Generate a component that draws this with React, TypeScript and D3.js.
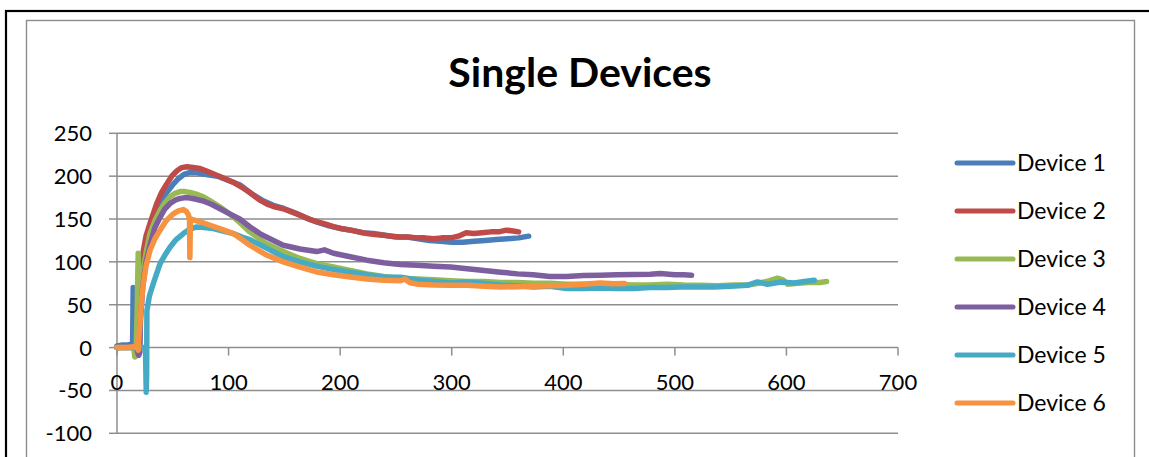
import React from "react";
import * as d3 from "d3";

type Pt = [number, number];

const seriesNames = ["Device 1", "Device 2", "Device 3", "Device 4", "Device 5", "Device 6"];
const seriesColors = ["#4a7ebb", "#be4b48", "#98b954", "#7d5fa0", "#46aac5", "#f69240"];

const xTicks = [0, 100, 200, 300, 400, 500, 600, 700];
const yTicks = [-100, -50, 0, 50, 100, 150, 200, 250];

const device1: Pt[] = [
  [0, 2], [5, 3], [10, 3], [13, 4], [14, 5], [14.5, 70], [15, 60], [15.5, 8], [17, 5], [19, 30], [21, 60],
  [24, 95], [28, 125], [33, 150], [38, 166], [44, 180], [50, 190], [55, 197], [60, 202], [65, 204], [72, 204],
  [80, 202], [90, 200], [100, 195], [110, 190], [120, 180], [130, 172], [140, 166], [150, 162], [160, 157],
  [170, 151], [180, 146], [190, 142], [200, 139], [210, 137], [220, 134], [230, 133], [240, 131], [250, 129],
  [260, 129], [270, 127], [280, 125], [290, 124], [300, 123], [310, 123], [320, 124], [330, 125], [340, 126],
  [350, 127], [360, 128], [369, 130],
];

const device2: Pt[] = [
  [0, 0], [10, 0], [17, 0], [18, -3], [19, 20], [21, 70], [23.6, 113], [26, 130], [29.6, 145], [35.6, 168],
  [40, 181], [44.6, 191], [49, 200], [53.5, 206], [58, 210], [62.5, 211], [68, 210], [74.4, 209], [82, 205],
  [89.4, 201], [97, 197], [104, 193], [112, 187], [120, 180], [128, 172], [135, 167], [142, 164], [149, 162],
  [157, 158], [165, 154], [172, 150], [179, 147], [187, 144], [194, 141], [201, 139], [209, 137], [217, 135],
  [224, 133], [231, 132], [239, 131], [246, 130], [254, 129], [261, 129], [269, 128], [276, 128], [284, 127],
  [291, 128], [299, 128], [306, 130], [313, 134], [320, 133], [327, 134], [335, 135], [342, 135], [349, 137],
  [355, 136], [360, 135],
];

const device3: Pt[] = [
  [0, 0], [10, 0], [15, 0], [16, -11], [17, -10], [18, 40], [19, 110], [20, 60], [23, 85], [26, 110],
  [29.6, 133], [34, 148], [38.6, 160], [43, 169], [47.5, 176], [52, 180], [56.5, 182], [61, 182], [65.5, 181],
  [71, 179], [77.4, 176], [85, 170], [92.4, 164], [101, 156], [110, 146], [119, 135], [134, 121], [149, 112],
  [164, 104], [179, 98], [194, 94], [209, 90], [224, 86], [239, 83], [254, 81], [269, 80], [284, 79], [299, 78],
  [314, 77], [329, 77], [344, 76], [359, 76], [373, 75], [388, 75], [403, 74], [418, 74], [433, 73.5],
  [448, 73.5], [463, 73], [478, 73], [493, 74], [508, 73], [523, 72.7], [538, 72], [553, 73], [565, 73],
  [575, 75], [585, 78], [592, 81], [597, 79], [601, 74], [610, 75], [620, 76], [630, 76], [636, 77],
];

const device4: Pt[] = [
  [0, 0], [10, 1], [17, 1], [18.5, -5], [19.5, -9], [20.5, -5], [21, 30], [23, 70], [26, 100], [30, 122],
  [34, 140], [38.6, 152], [43, 162], [47.5, 168], [52, 172], [56.5, 174], [61, 175], [65.5, 174.5], [71, 173],
  [77.4, 171], [85, 167], [92.4, 162], [101, 156], [110, 150], [119, 141], [128, 133], [137, 127], [149, 119.4],
  [164, 115], [179, 112], [186, 114], [194, 110], [209, 106], [224, 102], [239, 99], [254, 97], [269, 96],
  [284, 95], [299, 94], [314, 92], [329, 90], [344, 88], [359, 86], [373, 85], [388, 83], [403, 83], [418, 84],
  [433, 84.4], [448, 85], [463, 85.2], [478, 85.5], [487, 86.3], [500, 85], [508, 85], [515, 84.4],
];

const device5: Pt[] = [
  [0, 0], [10, 0], [20, 0], [25.5, 0], [26.2, -52], [26.6, -30], [26.8, 43], [29, 60], [32.6, 75], [38.6, 98],
  [43, 108], [47.5, 117], [53, 126], [59.5, 133], [65, 138], [71.5, 140.7], [78, 140], [86.4, 138.8], [95, 136],
  [104.3, 133], [112, 129], [119, 126], [134, 116], [149, 106], [164, 100], [179, 95], [194, 91], [209, 88],
  [224, 85], [239, 82], [254, 82], [269, 79], [284, 77], [299, 75.4], [314, 76.6], [329, 74.7], [344, 73],
  [359, 72], [373, 70.7], [388, 71.5], [403, 68.8], [418, 69], [433, 69.5], [448, 69], [463, 68.8], [478, 70],
  [493, 70], [505, 70.7], [520, 70.7], [535, 70.7], [550, 71.5], [565, 72.7], [574, 76.6], [583, 73.9],
  [595, 76.6], [607, 75.4], [616, 77], [625, 78.5],
];

const device6: Pt[] = [
  [0, 0], [8, 0], [15, 1], [18, 0], [19, -3], [19.5, 10], [20.6, 28], [22, 55], [23.6, 75], [26, 95],
  [29.6, 113.5], [34, 127], [38.6, 137], [44, 148], [50.5, 156], [55, 159.5], [59.5, 161], [62, 159], [64, 155],
  [65, 150], [65.3, 105], [65.8, 150], [70, 148.5], [76, 146], [83.4, 142.7], [94, 138], [104.3, 133], [112, 126],
  [119, 119.4], [134, 108], [149, 100], [164, 94], [179, 88.2], [194, 85], [209, 82.4], [224, 80], [239, 78.5],
  [254, 78], [258, 80], [262, 76], [269, 74], [284, 73], [299, 72.7], [314, 72.7], [329, 71.5], [344, 70.7],
  [359, 71], [373, 71.5], [388, 72], [403, 72.7], [418, 74], [433, 75.4], [445, 74.5], [455, 74.7],
];

const allSeries = [device1, device2, device3, device4, device5, device6];

const W = 1149;
const H = 457;
const FONT = "Lato, 'Open Sans', sans-serif";

export default function App() {
  const x = d3.scaleLinear().domain([0, 700]).range([117, 898]);
  const y = d3.scaleLinear().domain([-100, 250]).range([433.3, 133.3]);
  const line = d3
    .line<Pt>()
    .x((d) => x(d[0]))
    .y((d) => y(d[1]));

  const gridColor = "#8e8e8e";
  const legendX = 957;
  const legendY0 = 163;
  const legendStep = 48;

  return (
    <svg
      width={W}
      height={H}
      style={{ position: "absolute", left: 0, top: 0, background: "#fff" }}
      fontFamily={FONT}
    >
      <rect x={0} y={0} width={W} height={H} fill="#fff" />
      <rect x={6} y={11} width={W + 20} height={H + 20} fill="none" stroke="#000" strokeWidth={2.2} />
      <rect x={26.5} y={20.5} width={1108} height={H + 20} fill="none" stroke="#8c8c8c" strokeWidth={1.4} />

      <text x={580} y={87} textAnchor="middle" fontSize={41} fontWeight="bold" fill="#000">
        Single Devices
      </text>

      {yTicks.map((t) => (
        <line key={"g" + t} x1={x(0)} x2={x(700)} y1={y(t)} y2={y(t)} stroke={gridColor} strokeWidth={1.5} />
      ))}
      <line x1={x(0)} x2={x(0)} y1={y(-100)} y2={y(250)} stroke={gridColor} strokeWidth={1.5} />
      {yTicks.map((t) => (
        <line key={"yt" + t} x1={x(0) - 8} x2={x(0)} y1={y(t)} y2={y(t)} stroke={gridColor} strokeWidth={1.5} />
      ))}
      {yTicks.map((t) => (
        <text key={"yl" + t} x={92} y={y(t)} dy="0.36em" textAnchor="end" fontSize={22} fill="#000">
          {t}
        </text>
      ))}
      {xTicks.map((t) => (
        <line key={"xt" + t} x1={x(t)} x2={x(t)} y1={y(0)} y2={y(0) + 8} stroke={gridColor} strokeWidth={1.5} />
      ))}
      {xTicks.map((t) => (
        <text key={"xl" + t} x={x(t)} y={390} textAnchor="middle" fontSize={22} fill="#000">
          {t}
        </text>
      ))}

      {allSeries.map((s, i) => (
        <path
          key={"s" + i}
          d={line(s) || ""}
          fill="none"
          stroke={seriesColors[i]}
          strokeWidth={5.5}
          strokeLinejoin="round"
          strokeLinecap="round"
        />
      ))}

      {seriesNames.map((n, i) => {
        const cy = legendY0 + i * legendStep;
        return (
          <g key={"lg" + i}>
            <line
              x1={legendX}
              x2={legendX + 56}
              y1={cy}
              y2={cy}
              stroke={seriesColors[i]}
              strokeWidth={5}
              strokeLinecap="round"
            />
            <text x={1017} y={cy} dy="0.36em" fontSize={23} fill="#000">
              {n}
            </text>
          </g>
        );
      })}
    </svg>
  );
}
